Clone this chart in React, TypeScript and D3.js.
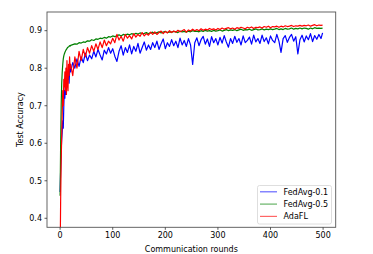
import * as d3 from "d3"

// communication rounds: every round at the start, then every 4th round
const rounds = [...d3.range(0, 20), ...d3.range(20, 500, 4), 499]

const fedAvg01 = [
  0.47, 0.53, 0.58, 0.61, 0.63, 0.66, 0.64, 0.70, 0.74, 0.72,
  0.76, 0.73, 0.78, 0.75, 0.79, 0.77, 0.80, 0.76, 0.79, 0.81,
  0.79, 0.815, 0.80, 0.825, 0.805, 0.83, 0.815, 0.84, 0.82, 0.835,
  0.825, 0.845, 0.83, 0.85, 0.835, 0.822, 0.848, 0.838, 0.855, 0.84,
  0.852, 0.832, 0.818, 0.845, 0.86, 0.835, 0.855, 0.842, 0.862, 0.838,
  0.858, 0.845, 0.866, 0.84, 0.855, 0.87, 0.848, 0.862, 0.85, 0.868,
  0.855, 0.872, 0.85, 0.865, 0.878, 0.852, 0.868, 0.858, 0.876, 0.86,
  0.872, 0.855, 0.88, 0.862, 0.874, 0.858, 0.879, 0.862, 0.81, 0.868,
  0.881, 0.86, 0.876, 0.885, 0.864, 0.878, 0.858, 0.884, 0.868, 0.879,
  0.862, 0.882, 0.867, 0.887, 0.87, 0.856, 0.879, 0.866, 0.885, 0.869,
  0.879, 0.862, 0.886, 0.868, 0.874, 0.883, 0.864, 0.888, 0.87, 0.879,
  0.866, 0.888, 0.871, 0.881, 0.865, 0.886, 0.874, 0.868, 0.89, 0.872,
  0.842, 0.879, 0.887, 0.869, 0.882, 0.89, 0.872, 0.884, 0.838, 0.876,
  0.888, 0.87, 0.886, 0.876, 0.892, 0.871, 0.887, 0.877, 0.89, 0.879,
  0.894,
]

const fedAvg05 = [
  0.46, 0.6, 0.7, 0.76, 0.79, 0.81, 0.825, 0.833, 0.838, 0.842,
  0.845, 0.848, 0.85, 0.852, 0.855, 0.856, 0.857, 0.858, 0.86, 0.859,
  0.861, 0.863, 0.865, 0.864, 0.868, 0.867, 0.87, 0.869, 0.873, 0.872,
  0.876, 0.874, 0.878, 0.877, 0.88, 0.879, 0.882, 0.88, 0.884, 0.883,
  0.886, 0.884, 0.887, 0.889, 0.886, 0.89, 0.888, 0.891, 0.889, 0.892,
  0.89, 0.893, 0.891, 0.894, 0.892, 0.893, 0.895, 0.892, 0.894, 0.896,
  0.893, 0.895, 0.897, 0.894, 0.896, 0.898, 0.895, 0.897, 0.896, 0.898,
  0.897, 0.895, 0.899, 0.897, 0.898, 0.896, 0.899, 0.897, 0.9, 0.898,
  0.899, 0.897, 0.9, 0.898, 0.901, 0.899, 0.9, 0.898, 0.901, 0.899,
  0.9, 0.902, 0.899, 0.901, 0.903, 0.9, 0.902, 0.901, 0.903, 0.9,
  0.902, 0.904, 0.901, 0.903, 0.902, 0.904, 0.901, 0.903, 0.905, 0.902,
  0.903, 0.905, 0.902, 0.904, 0.903, 0.905, 0.903, 0.904, 0.906, 0.903,
  0.905, 0.903, 0.906, 0.904, 0.905, 0.907, 0.904, 0.906, 0.905, 0.907,
  0.905, 0.907, 0.906, 0.904, 0.907, 0.905, 0.908, 0.906, 0.907, 0.906,
  0.907,
]

const adaFL = [
  0.3, 0.45, 0.55, 0.62, 0.68, 0.74, 0.7, 0.77, 0.75, 0.79,
  0.74, 0.8, 0.73, 0.82, 0.76, 0.74, 0.81, 0.78, 0.83, 0.8,
  0.81, 0.78, 0.83, 0.8, 0.845, 0.82, 0.85, 0.83, 0.855, 0.84,
  0.86, 0.845, 0.865, 0.85, 0.87, 0.855, 0.875, 0.86, 0.872, 0.865,
  0.88, 0.868, 0.89, 0.875, 0.885, 0.872, 0.89, 0.88, 0.887, 0.878,
  0.892, 0.883, 0.89, 0.885, 0.895, 0.886, 0.892, 0.888, 0.896, 0.89,
  0.897, 0.89, 0.895, 0.899, 0.892, 0.898, 0.894, 0.9, 0.895, 0.899,
  0.896, 0.901, 0.897, 0.9, 0.903, 0.896, 0.902, 0.899, 0.904, 0.9,
  0.903, 0.9, 0.905, 0.901, 0.904, 0.902, 0.906, 0.903, 0.905, 0.902,
  0.906, 0.903, 0.907, 0.904, 0.906, 0.908, 0.905, 0.907, 0.904, 0.908,
  0.906, 0.909, 0.907, 0.905, 0.909, 0.907, 0.91, 0.906, 0.909, 0.908,
  0.91, 0.907, 0.911, 0.909, 0.912, 0.908, 0.911, 0.91, 0.912, 0.909,
  0.912, 0.91, 0.913, 0.911, 0.912, 0.914, 0.911, 0.913, 0.912, 0.914,
  0.912, 0.914, 0.913, 0.915, 0.912, 0.914, 0.916, 0.913, 0.915, 0.914,
  0.915,
]

const series = [
  { label: "FedAvg-0.1", color: "#0000ff", values: fedAvg01 },
  { label: "FedAvg-0.5", color: "#008000", values: fedAvg05 },
  { label: "AdaFL", color: "#ff0000", values: adaFL },
]

const xTicks = [0, 100, 200, 300, 400, 500]
const yTicks = [0.4, 0.5, 0.6, 0.7, 0.8, 0.9]

const W = 373
const H = 254
const left = 47
const right = 335.7
const top = 12
const bottom = 227.3
const font = "DejaVu Sans, sans-serif"

export default function App() {
  const x = d3.scaleLinear().domain([-24.95, 523.95]).range([left, right])
  const y = d3.scaleLinear().domain([0.376, 0.9498]).range([bottom, top])

  const line = d3
    .line<number>()
    .x((_, i) => x(rounds[i]))
    .y((d) => y(d))

  return (
    <svg width={W} height={H} style={{ position: "absolute", left: 0, top: 0, background: "#fff" }}>
      <defs>
        <clipPath id="plot">
          <rect x={left} y={top} width={right - left} height={bottom - top} />
        </clipPath>
      </defs>

      <g clipPath="url(#plot)">
        {series.map((s) => (
          <path
            key={s.label}
            d={line(s.values.slice(0, rounds.length)) || ""}
            fill="none"
            stroke={s.color}
            strokeWidth={1.2}
            strokeLinejoin="round"
          />
        ))}
      </g>

      {/* axes frame */}
      <rect x={left} y={top} width={right - left} height={bottom - top} fill="none" stroke="#555" strokeWidth={0.9} />

      {/* x ticks */}
      {xTicks.map((t) => (
        <g key={t} transform={`translate(${x(t)},0)`}>
          <line y1={bottom} y2={bottom + 2.5} stroke="#333" strokeWidth={0.8} />
          <text y={bottom + 11} textAnchor="middle" fontSize={8} fontFamily={font} fill="#000">
            {t}
          </text>
        </g>
      ))}

      {/* y ticks */}
      {yTicks.map((t) => (
        <g key={t} transform={`translate(0,${y(t)})`}>
          <line x1={left - 2.5} x2={left} stroke="#333" strokeWidth={0.8} />
          <text x={left - 5} dy="0.35em" textAnchor="end" fontSize={8} fontFamily={font} fill="#000">
            {t.toFixed(1)}
          </text>
        </g>
      ))}

      <text x={(left + right) / 2} y={251.5} textAnchor="middle" fontSize={8} fontFamily={font} fill="#000">
        Communication rounds
      </text>
      <text
        transform={`translate(23,${(top + bottom) / 2}) rotate(-90)`}
        textAnchor="middle"
        fontSize={8}
        fontFamily={font}
        fill="#000"
      >
        Test Accuracy
      </text>

      {/* legend */}
      <g transform="translate(257.5,185.5)">
        <rect width={74} height={38.5} rx={2} fill="#fff" fillOpacity={0.8} stroke="#d6d6d6" strokeWidth={0.8} />
        {series.map((s, i) => (
          <g key={s.label} transform={`translate(0,${6.3 + i * 12.3})`}>
            <line x1={2.5} x2={19.5} stroke={s.color} strokeWidth={1.2} strokeOpacity={0.6} />
            <text x={26} dy="0.35em" fontSize={8} fontFamily={font} fill="#000">
              {s.label}
            </text>
          </g>
        ))}
      </g>
    </svg>
  )
}
